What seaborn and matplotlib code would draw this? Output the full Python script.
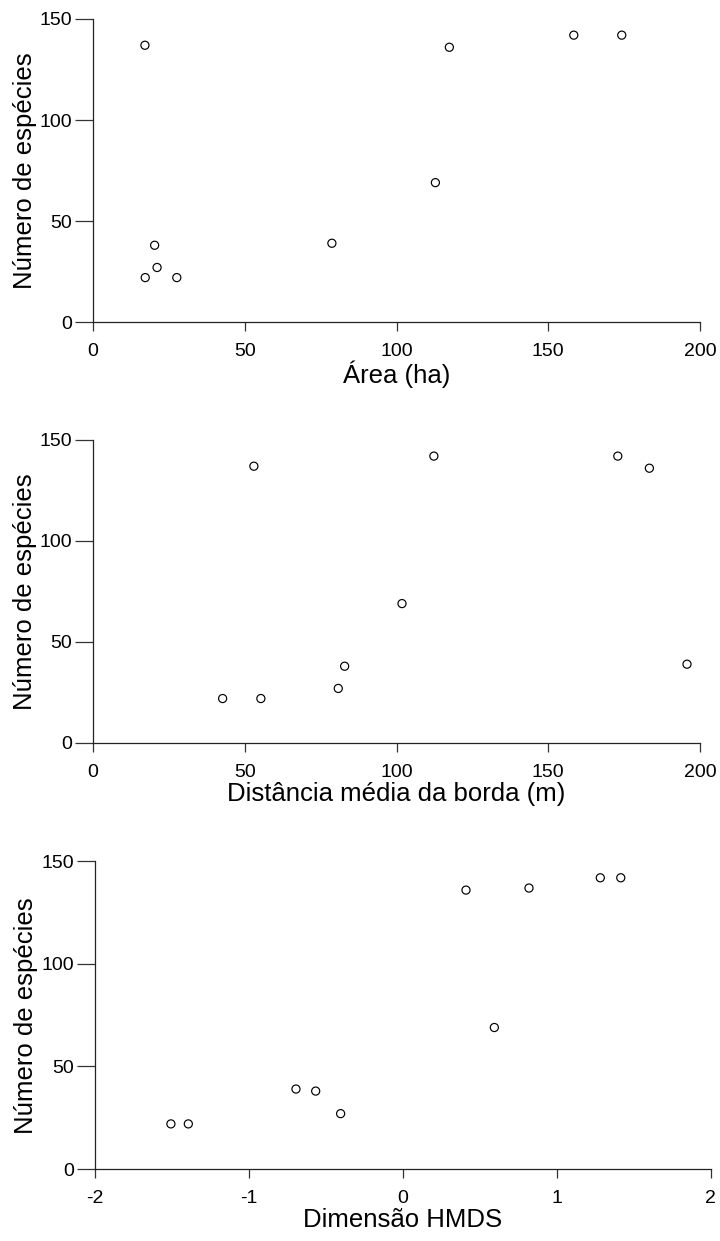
import matplotlib
matplotlib.use("Agg")
import matplotlib.pyplot as plt
import seaborn as sns
import pandas as pd

# Species richness per forest fragment and three fragment descriptors
especies = [22, 22, 27, 38, 39, 69, 136, 137, 142, 142]
area_ha = [17.2, 27.6, 21.1, 20.3, 78.7, 112.8, 117.4, 17.1, 158.4, 174.2]
dist_borda = [42.7, 55.3, 80.8, 82.9, 195.7, 101.8, 183.3, 53.0, 112.3, 172.9]
dim_hmds = [-1.505, -1.392, -0.403, -0.565, -0.693, 0.595, 0.411, 0.820, 1.283, 1.416]

y_label = "Número de espécies"
x_labels = ["Área (ha)", "Distância média da borda (m)", "Dimensão HMDS"]
x_limits = [(0, 200), (0, 200), (-2, 2)]
x_ticks = [[0, 50, 100, 150, 200], [0, 50, 100, 150, 200], [-2, -1, 0, 1, 2]]
y_ticks = [0, 50, 100, 150]

sns.set_theme(style="ticks")
plt.rcParams["font.family"] = ["Liberation Sans", "DejaVu Sans"]
plt.rcParams["axes.unicode_minus"] = False

df = pd.DataFrame({"especies": especies, "area": area_ha,
                   "dist": dist_borda, "hmds": dim_hmds})
x_cols = ["area", "dist", "hmds"]

fig = plt.figure(figsize=(7.2, 12.41), dpi=100)
positions = [
    [0.1292, 0.7405, 0.8431, 0.2442],
    [0.1292, 0.4013, 0.8431, 0.2442],
    [0.1315, 0.0580, 0.8556, 0.2479],
]

for pos, col, xl, lim, xt in zip(positions, x_cols, x_labels, x_limits, x_ticks):
    ax = fig.add_axes(pos)
    sns.scatterplot(data=df, x=col, y="especies", ax=ax, marker="o",
                    s=34, facecolor="none", edgecolor="black",
                    linewidth=0.85, clip_on=False, legend=False)
    ax.set_xlim(*lim)
    ax.set_ylim(0, 150)
    ax.set_xticks(xt)
    ax.set_yticks(y_ticks)
    ax.set_xticklabels([str(v) for v in xt])
    ax.set_yticklabels([str(v) for v in y_ticks])
    for side in ("top", "right"):
        ax.spines[side].set_visible(False)
    for side in ("left", "bottom"):
        ax.spines[side].set_color("#222222")
        ax.spines[side].set_linewidth(0.9)
    ax.tick_params(axis="x", direction="out", length=6.5, width=0.9,
                   color="#333333", pad=8.5, labelsize=14, labelcolor="black")
    ax.tick_params(axis="y", direction="out", length=13, width=0.9,
                   color="#333333", pad=2, labelsize=14, labelcolor="black")
    ax.set_xlabel(xl, fontsize=18.5, labelpad=0.5, color="black")
    ax.set_ylabel(y_label, fontsize=18.5, labelpad=2, color="black")

fig.savefig("out.png", dpi=100, facecolor="white")
